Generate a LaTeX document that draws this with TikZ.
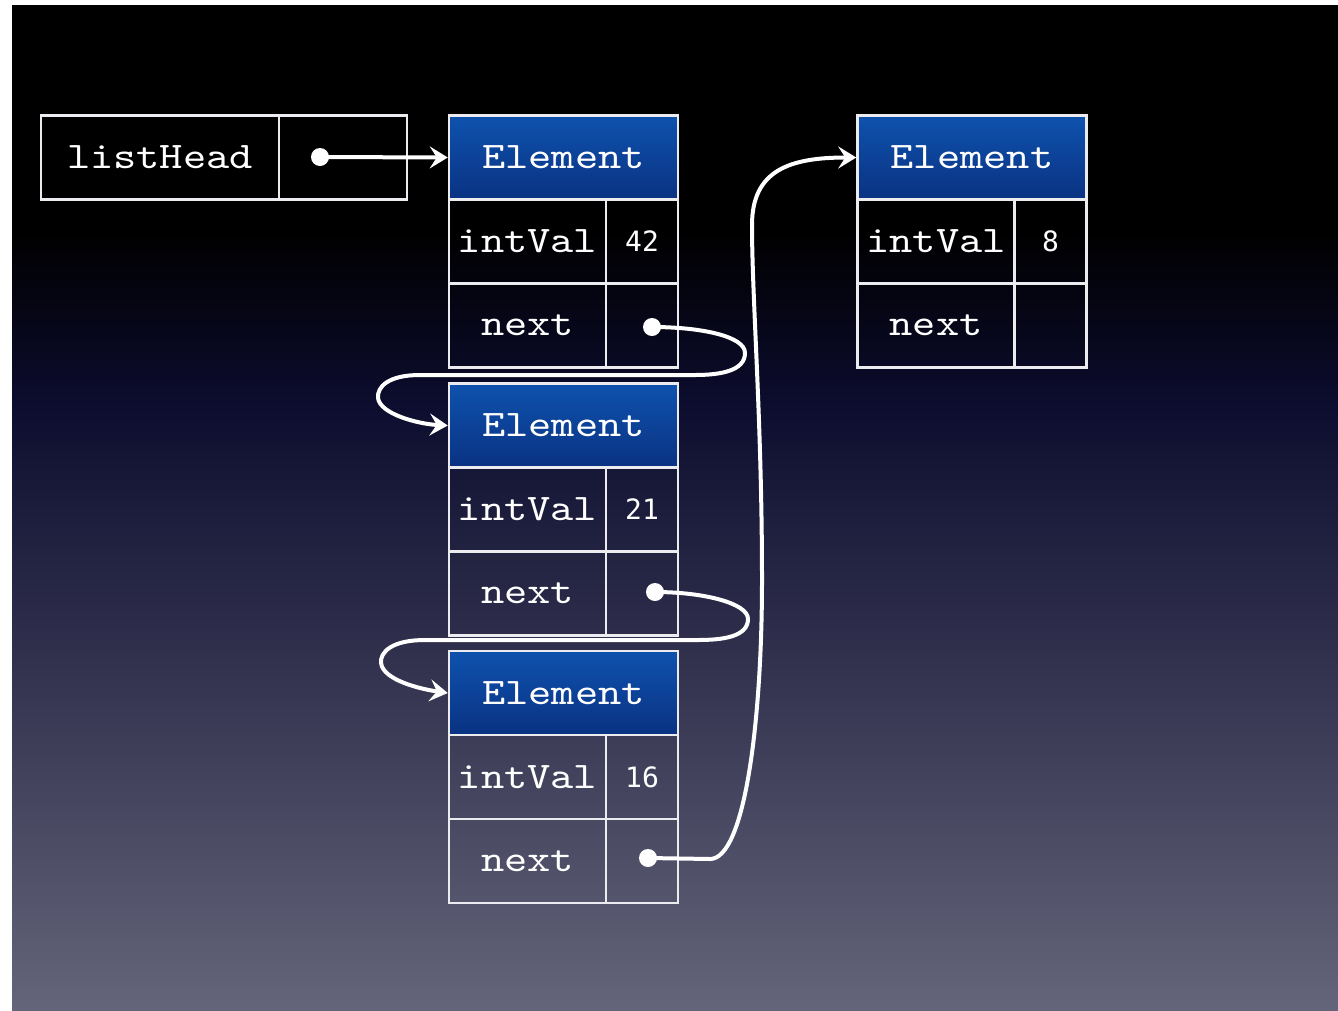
\documentclass[tikz,border=0pt]{standalone}
\usepackage{fontspec}
\newfontfamily\lblfont[FakeStretch=1.18]{lmmono10-regular.otf}
\newfontfamily\numfont{DejaVu Sans Mono}
\usetikzlibrary{arrows.meta}
\definecolor{bgnavy}{RGB}{12,12,46}
\definecolor{bggray}{RGB}{100,100,122}
\definecolor{hdtop}{RGB}{14,82,174}
\definecolor{hdbot}{RGB}{10,50,130}
\definecolor{edgec}{RGB}{236,236,240}
\begin{document}
\begin{tikzpicture}[x=1pt,y=-1pt,
  cell/.style={draw=edgec, line width=2.5pt, inner sep=0pt, minimum height=84pt,
    text=white, font=\lblfont\fontsize{37.5}{40}\selectfont},
  keycell/.style={cell, minimum width=157pt},
  valcell/.style={cell, minimum width=72pt, font=\numfont\fontsize{28}{30}\selectfont},
  hdcell/.style={cell, minimum width=229pt, top color=hdtop, bottom color=hdbot},
  dot/.style={circle, fill=white, minimum size=18pt, inner sep=0pt},
  link/.style={draw=white, line width=4pt, line cap=round,
    -{Stealth[length=18pt,width=22pt,inset=7pt]}}]
\useasboundingbox (0,0) rectangle (1338,1010);
% background
\fill[white] (0,0) rectangle (1338,1010);
\fill[black] (12,5) rectangle (1338,232);
\shade[top color=black, bottom color=bgnavy] (12,230) rectangle (1338,402);
\shade[top color=bgnavy, bottom color=bggray] (12,400) rectangle (1338,1010);

% listHead
\node[cell, minimum width=238pt] (lhk) at (160,157.5) {listHead};
\node[cell, minimum width=128pt] (lhp) at (343,157.5) {};

% Element 1
\node[hdcell] (e1h) at (563.5,157.5) {Element};
\node[keycell] (e1k) at (527.5,241.5) {intVal};
\node[valcell] (e1v) at (642,241.5) {42};
\node[keycell] (e1n) at (527.5,325.5) {next};
\node[valcell] (e1p) at (642,325.5) {};

% Element 2
\node[hdcell] (e2h) at (563.5,425.5) {Element};
\node[keycell] (e2k) at (527.5,509.5) {intVal};
\node[valcell] (e2v) at (642,509.5) {21};
\node[keycell] (e2n) at (527.5,593.5) {next};
\node[valcell] (e2p) at (642,593.5) {};

% Element 3
\node[hdcell] (e3h) at (563.5,693) {Element};
\node[keycell] (e3k) at (527.5,777) {intVal};
\node[valcell] (e3v) at (642,777) {16};
\node[keycell] (e3n) at (527.5,861) {next};
\node[valcell] (e3p) at (642,861) {};

% Element 4
\node[hdcell] (e4h) at (972,157.5) {Element};
\node[keycell] (e4k) at (936,241.5) {intVal};
\node[valcell] (e4v) at (1050.5,241.5) {8};
\node[keycell] (e4n) at (936,325.5) {next};
\node[valcell] (e4p) at (1050.5,325.5) {};

% pointer dots
\node[dot] (d0) at (320,157) {};
\node[dot] (d1) at (652,327) {};
\node[dot] (d2) at (655,592) {};
\node[dot] (d3) at (648,858) {};

% connectors
\draw[link] (d0.center) -- (e1h.west);
\draw[link] (d1.center) .. controls (700,327) and (745,336) .. (745,353)
  .. controls (745,371) and (720,375) .. (695,375) -- (420,375)
  .. controls (388,375) and (377,387) .. (378,398)
  .. controls (380,414) and (418,424) .. (e2h.west);
\draw[link] (d2.center) .. controls (703,592) and (748,603) .. (748,619)
  .. controls (748,637) and (722,640) .. (698,640) -- (425,640)
  .. controls (392,640) and (380,652) .. (381,663)
  .. controls (383,680) and (420,689) .. (e3h.west);
\draw[link] (d3.center) -- (710,859)
  .. controls (745,859) and (762,720) .. (762,580)
  .. controls (762,420) and (752,300) .. (752,225)
  .. controls (752,170) and (790,157.5) .. (e4h.west);
\end{tikzpicture}
\end{document}
